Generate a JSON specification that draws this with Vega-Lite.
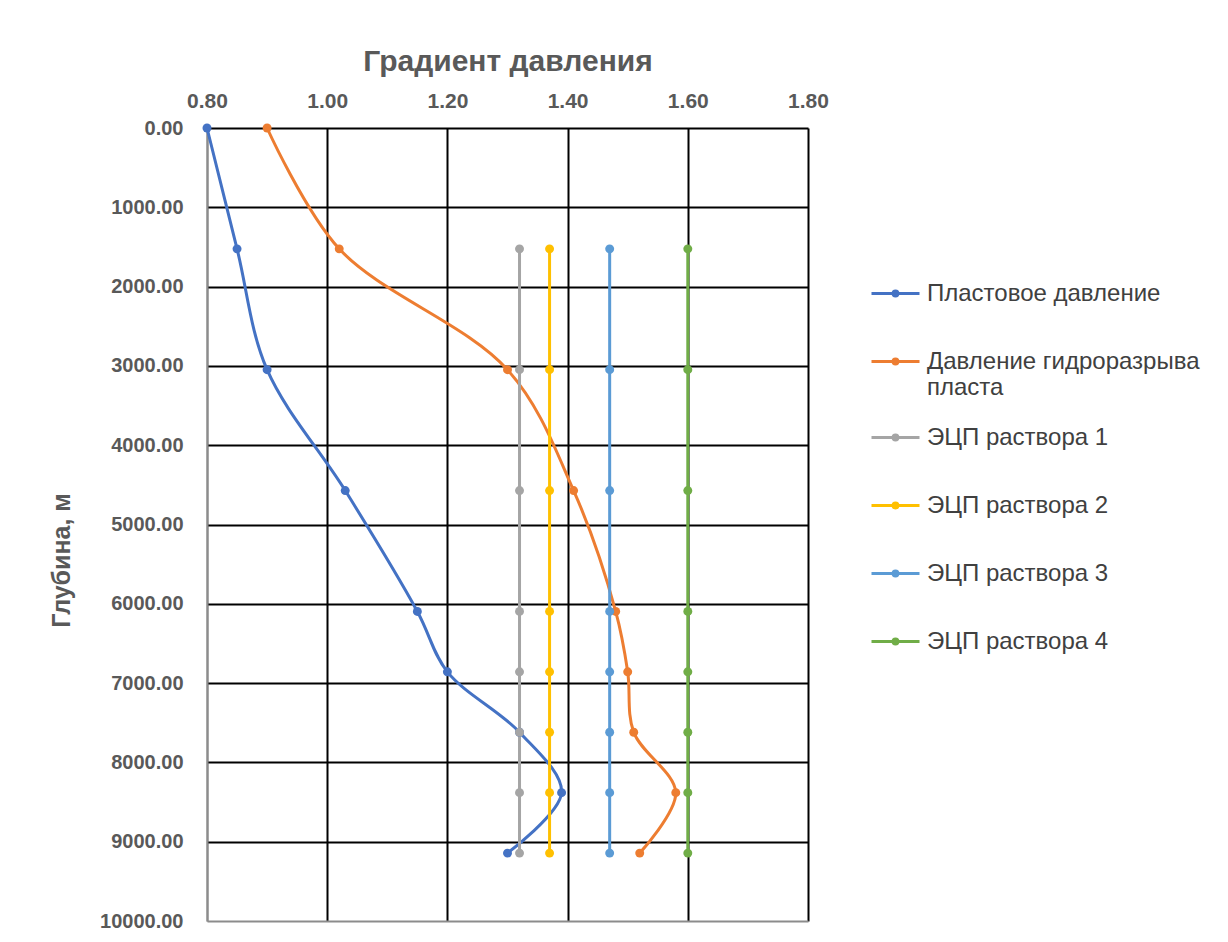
{
  "$schema": "https://vega.github.io/schema/vega-lite/v6.json",
  "width": 601,
  "height": 793,
  "autosize": {"type": "none"},
  "padding": {"left": 207, "top": 128, "right": 420, "bottom": 21},
  "background": "white",
  "config": {"view": {"stroke": null}, "font": "Liberation Sans"},
  "data": {"values": [
    {"series": "Пластовое давление", "depth": 0, "grad": 0.80},
    {"series": "Пластовое давление", "depth": 1524, "grad": 0.85},
    {"series": "Пластовое давление", "depth": 3048, "grad": 0.90},
    {"series": "Пластовое давление", "depth": 4572, "grad": 1.03},
    {"series": "Пластовое давление", "depth": 6096, "grad": 1.15},
    {"series": "Пластовое давление", "depth": 6858, "grad": 1.20},
    {"series": "Пластовое давление", "depth": 7620, "grad": 1.32},
    {"series": "Пластовое давление", "depth": 8382, "grad": 1.39},
    {"series": "Пластовое давление", "depth": 9144, "grad": 1.30},
    {"series": "Давление гидроразрыва пласта", "depth": 0, "grad": 0.90},
    {"series": "Давление гидроразрыва пласта", "depth": 1524, "grad": 1.02},
    {"series": "Давление гидроразрыва пласта", "depth": 3048, "grad": 1.30},
    {"series": "Давление гидроразрыва пласта", "depth": 4572, "grad": 1.41},
    {"series": "Давление гидроразрыва пласта", "depth": 6096, "grad": 1.48},
    {"series": "Давление гидроразрыва пласта", "depth": 6858, "grad": 1.50},
    {"series": "Давление гидроразрыва пласта", "depth": 7620, "grad": 1.51},
    {"series": "Давление гидроразрыва пласта", "depth": 8382, "grad": 1.58},
    {"series": "Давление гидроразрыва пласта", "depth": 9144, "grad": 1.52},
    {"series": "ЭЦП раствора 1", "depth": 1524, "grad": 1.32},
    {"series": "ЭЦП раствора 1", "depth": 3048, "grad": 1.32},
    {"series": "ЭЦП раствора 1", "depth": 4572, "grad": 1.32},
    {"series": "ЭЦП раствора 1", "depth": 6096, "grad": 1.32},
    {"series": "ЭЦП раствора 1", "depth": 6858, "grad": 1.32},
    {"series": "ЭЦП раствора 1", "depth": 7620, "grad": 1.32},
    {"series": "ЭЦП раствора 1", "depth": 8382, "grad": 1.32},
    {"series": "ЭЦП раствора 1", "depth": 9144, "grad": 1.32},
    {"series": "ЭЦП раствора 2", "depth": 1524, "grad": 1.37},
    {"series": "ЭЦП раствора 2", "depth": 3048, "grad": 1.37},
    {"series": "ЭЦП раствора 2", "depth": 4572, "grad": 1.37},
    {"series": "ЭЦП раствора 2", "depth": 6096, "grad": 1.37},
    {"series": "ЭЦП раствора 2", "depth": 6858, "grad": 1.37},
    {"series": "ЭЦП раствора 2", "depth": 7620, "grad": 1.37},
    {"series": "ЭЦП раствора 2", "depth": 8382, "grad": 1.37},
    {"series": "ЭЦП раствора 2", "depth": 9144, "grad": 1.37},
    {"series": "ЭЦП раствора 3", "depth": 1524, "grad": 1.47},
    {"series": "ЭЦП раствора 3", "depth": 3048, "grad": 1.47},
    {"series": "ЭЦП раствора 3", "depth": 4572, "grad": 1.47},
    {"series": "ЭЦП раствора 3", "depth": 6096, "grad": 1.47},
    {"series": "ЭЦП раствора 3", "depth": 6858, "grad": 1.47},
    {"series": "ЭЦП раствора 3", "depth": 7620, "grad": 1.47},
    {"series": "ЭЦП раствора 3", "depth": 8382, "grad": 1.47},
    {"series": "ЭЦП раствора 3", "depth": 9144, "grad": 1.47},
    {"series": "ЭЦП раствора 4", "depth": 1524, "grad": 1.60},
    {"series": "ЭЦП раствора 4", "depth": 3048, "grad": 1.60},
    {"series": "ЭЦП раствора 4", "depth": 4572, "grad": 1.60},
    {"series": "ЭЦП раствора 4", "depth": 6096, "grad": 1.60},
    {"series": "ЭЦП раствора 4", "depth": 6858, "grad": 1.60},
    {"series": "ЭЦП раствора 4", "depth": 7620, "grad": 1.60},
    {"series": "ЭЦП раствора 4", "depth": 8382, "grad": 1.60},
    {"series": "ЭЦП раствора 4", "depth": 9144, "grad": 1.60}
  ]},
  "mark": {
    "type": "line",
    "interpolate": "catmull-rom",
    "strokeWidth": 3,
    "point": {"filled": true, "size": 80}
  },
  "encoding": {
    "x": {
      "field": "grad", "type": "quantitative",
      "scale": {"domain": [0.8, 1.8], "nice": false, "zero": false},
      "axis": {
        "orient": "top",
        "values": [0.8, 1.0, 1.2, 1.4, 1.6, 1.8],
        "format": ".2f",
        "title": "Градиент давления",
        "titleFontSize": 30,
        "titleFontWeight": "bold",
        "titleColor": "#595959",
        "titlePadding": 14,
        "labelFontSize": 21,
        "labelFontWeight": "bold",
        "labelColor": "#595959",
        "labelPadding": 17,
        "labelFlush": false,
        "labelOverlap": false,
        "ticks": false,
        "domain": false,
        "grid": true,
        "gridColor": {"condition": {"test": "datum.value == 0.8", "value": "#8c8c8c"}, "value": "#000000"},
        "gridWidth": 2,
        "gridOpacity": 1
      }
    },
    "y": {
      "field": "depth", "type": "quantitative",
      "scale": {"domain": [0, 10000], "reverse": true, "nice": false},
      "axis": {
        "values": [0, 1000, 2000, 3000, 4000, 5000, 6000, 7000, 8000, 9000, 10000],
        "format": ".2f",
        "title": "Глубина, м",
        "titleFontSize": 25,
        "titleFontWeight": "bold",
        "titleColor": "#595959",
        "titleX": -133,
        "titleY": 432,
        "labelFontSize": 20,
        "labelFontWeight": "bold",
        "labelColor": "#595959",
        "labelPadding": 24,
        "labelFlush": false,
        "labelOverlap": false,
        "ticks": false,
        "domain": true,
        "domainColor": "#8c8c8c",
        "domainWidth": 2,
        "grid": true,
        "gridColor": {"condition": {"test": "datum.value == 10000", "value": "#8c8c8c"}, "value": "#000000"},
        "gridWidth": 2,
        "gridOpacity": 1
      }
    },
    "color": {
      "field": "series", "type": "nominal",
      "scale": {
        "domain": ["Пластовое давление", "Давление гидроразрыва пласта", "ЭЦП раствора 1", "ЭЦП раствора 2", "ЭЦП раствора 3", "ЭЦП раствора 4"],
        "range": ["#4472C4", "#ED7D31", "#A5A5A5", "#FFC000", "#5B9BD5", "#70AD47"]
      },
      "legend": {
        "orient": "none",
        "legendX": 663,
        "legendY": 140,
        "title": null,
        "symbolType": "M0,-1M-1,0L1,0M-0.1,0A0.1,0.1,0,1,0,0.1,0A0.1,0.1,0,1,0,-0.1,0M0,1",
        "symbolSize": 2304,
        "symbolStrokeWidth": 3,
        "labelFontSize": 24,
        "labelColor": "#404040",
        "labelLimit": 400,
        "labelOffset": 6,
        "rowPadding": 7,
        "labelExpr": "datum.label == 'Давление гидроразрыва пласта' ? ['Давление гидроразрыва', 'пласта'] : datum.label"
      }
    },
    "order": {"field": "depth", "type": "quantitative"}
  }
}
